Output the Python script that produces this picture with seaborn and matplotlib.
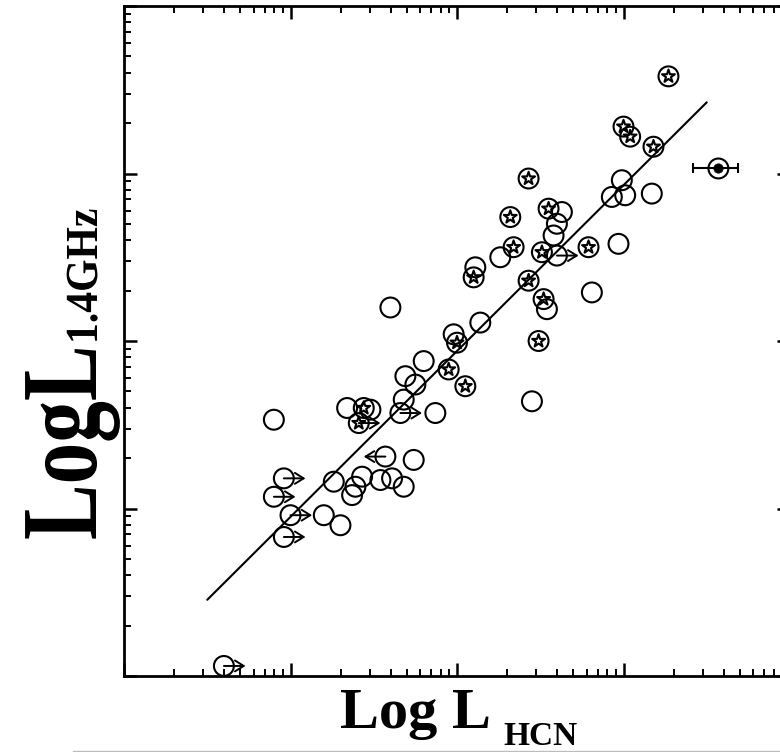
import numpy as np
import matplotlib
matplotlib.use("Agg")
import matplotlib.pyplot as plt
import seaborn as sns
from matplotlib.ticker import FixedLocator, NullFormatter
from matplotlib.patheffects import AbstractPathEffect
from matplotlib.transforms import Affine2D
from matplotlib.lines import Line2D

# ---- data: log10 L_HCN and log10 L_1.4GHz ----
open_x = [7.60, 7.69, 7.75, 7.68, 7.87, 7.80, 7.98, 8.14, 8.11, 8.26, 8.54, 8.45,
          8.63, 8.60, 8.58, 8.97, 8.81, 8.93, 8.99, 9.01, 9.17, 6.90, 7.34, 7.48,
          7.26, 7.37, 7.39, 7.43, 7.54, 7.61, 7.68, 7.74, 7.20, 7.30]
open_y = [22.20, 21.79, 21.74, 21.65, 21.57, 21.88, 22.04, 22.11, 22.44, 22.50, 22.19, 21.64,
          22.77, 22.70, 22.63, 22.58, 22.29, 22.86, 22.96, 22.87, 22.88, 21.53, 21.60, 21.59,
          21.16, 21.08, 21.13, 21.19, 21.17, 21.18, 21.13, 21.29, 20.96, 20.90]

star_x = [9.27, 9.00, 9.04, 9.18, 8.43, 8.32, 8.55, 8.34, 8.51, 8.79, 8.10, 8.43,
          8.52, 8.49, 8.00, 7.95, 8.05, 7.44, 7.41]
star_y = [23.58, 23.28, 23.22, 23.16, 22.97, 22.74, 22.79, 22.56, 22.53, 22.56, 22.38, 22.36,
          22.25, 22.00, 21.99, 21.83, 21.73, 21.60, 21.51]

# lower limits on L_HCN (arrow to the right)
lolim_x = [8.60, 7.66, 6.96, 6.90, 7.00, 6.96, 6.60, 7.41]
lolim_y = [22.51, 21.57, 21.18, 21.07, 20.96, 20.83, 20.06, 21.51]
# upper limit on L_HCN (arrow to the left)
uplim_x = [7.57]
uplim_y = [21.31]

# source with measured uncertainty
err_x, err_y = 9.57, 23.03
err_lo, err_hi = 0.15, 0.12

# linear fit in log-log space
fit_slope, fit_intercept = 0.99, 14.02
fit_range = [6.50, 9.50]

arrow_len = 0.13

# ---- style ----
sns.set_theme(style="ticks")
plt.rcParams["font.family"] = ["Liberation Serif", "DejaVu Serif"]


class GlyphStretch(AbstractPathEffect):
    """Scale glyph outlines along their own vertical axis."""

    def __init__(self, factor):
        super().__init__()
        self.factor = factor

    def draw_path(self, renderer, gc, tpath, affine, rgbFace=None):
        renderer.draw_path(gc, tpath, Affine2D().scale(1.0, self.factor) + affine, rgbFace)


W, H = 780, 752
fig = plt.figure(figsize=(W / 100, H / 100), dpi=100)
ax = fig.add_axes([124 / W, 76 / H, 666 / W, 670 / H])

ax.set_xlim(6, 10)
ax.set_ylim(20, 24)

for axis in (ax.xaxis, ax.yaxis):
    lo = 6 if axis is ax.xaxis else 20
    axis.set_major_locator(FixedLocator(list(range(lo, lo + 5))))
    axis.set_minor_locator(FixedLocator([d + np.log10(k) for d in range(lo, lo + 4) for k in range(2, 10)]))
    axis.set_major_formatter(NullFormatter())
    axis.set_minor_formatter(NullFormatter())

ax.tick_params(which="both", direction="in", top=True, right=True, color="black")
ax.tick_params(which="major", length=9.5, width=1.8)
ax.tick_params(which="minor", length=5, width=1.4)
for sp in ax.spines.values():
    sp.set_linewidth(2.0)
    sp.set_color("black")
ax.set_xlabel("")
ax.set_ylabel("")

# fit line
fx = np.array(fit_range)
sns.lineplot(x=fx, y=fit_slope * fx + fit_intercept, color="black", linewidth=1.5, ax=ax, zorder=2)

circle_kw = dict(marker="o", s=205, facecolor="none", edgecolor="black", linewidth=1.5, ax=ax, zorder=3)
sns.scatterplot(x=open_x, y=open_y, **circle_kw)
sns.scatterplot(x=star_x, y=star_y, **circle_kw)
sns.scatterplot(x=star_x, y=star_y, marker="*", s=95, facecolor="none", edgecolor="black",
                linewidth=1.5, ax=ax, zorder=3)

# limits
arrow_kw = dict(arrowstyle="->,head_length=0.45,head_width=0.28", lw=1.4, color="black",
                shrinkA=0, shrinkB=0, mutation_scale=14)
for x, y in zip(lolim_x, lolim_y):
    ax.annotate("", xy=(x + arrow_len, y), xytext=(x, y), arrowprops=arrow_kw, zorder=3)
sns.scatterplot(x=lolim_x[:-1], y=lolim_y[:-1], **circle_kw)
for x, y in zip(uplim_x, uplim_y):
    ax.annotate("", xy=(x - arrow_len, y), xytext=(x, y), arrowprops=arrow_kw, zorder=3)
sns.scatterplot(x=uplim_x, y=uplim_y, **circle_kw)

# source with error bar
ax.errorbar([err_x], [err_y], xerr=[[err_lo], [err_hi]], fmt="none", ecolor="black",
            elinewidth=1.5, capsize=3.6, capthick=1.5, zorder=3)
sns.scatterplot(x=[err_x], y=[err_y], **circle_kw)
sns.scatterplot(x=[err_x], y=[err_y], marker="o", s=45, color="black", edgecolor="black", ax=ax, zorder=4)

if ax.legend_:
    ax.legend_.remove()

# axis titles
bold = dict(fontweight="bold", family=["Liberation Serif", "DejaVu Serif"], color="black")
fig.text(340 / W, 1 - 728 / H, "Log L", fontsize=42, ha="left", va="baseline", **bold)
fig.text(503 / W, 1 - 745 / H, "HCN", fontsize=24, ha="left", va="baseline", **bold)

t1 = fig.text(96 / W, 1 - 540 / H, "LogL", fontsize=60, rotation=90, rotation_mode="anchor",
              ha="left", va="baseline", **bold)
t1.set_path_effects([GlyphStretch(1.3)])
t2 = fig.text(97 / W, 1 - 344 / H, "1.4GHz", fontsize=30, rotation=90, rotation_mode="anchor",
              ha="left", va="baseline", **bold)
t2.set_path_effects([GlyphStretch(1.1)])

# page rule along the bottom edge
fig.add_artist(Line2D([73 / W, 1.0], [1.5 / H, 1.5 / H], color="#bdbdbd", lw=1.0,
                      transform=fig.transFigure))

fig.savefig("out.png", dpi=100)
